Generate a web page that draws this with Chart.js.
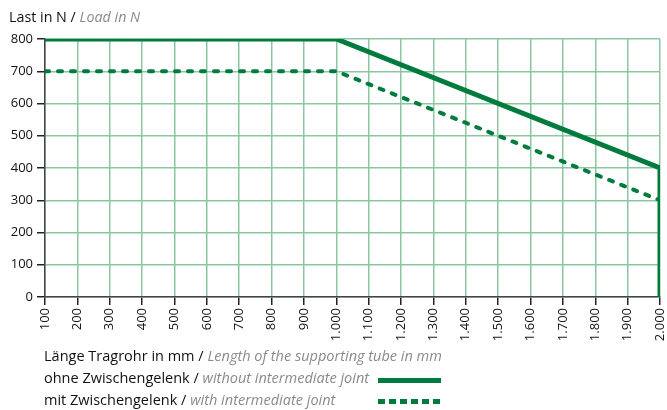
<html lang="de">
<head>
    <meta charset="UTF-8">
    <title>Last in N</title>
    <script src="https://cdn.jsdelivr.net/npm/chart.js"></script>
    <style>
        body { margin: 0; width: 667px; height: 410px; position: relative; background: #fff; font-family: "Open Sans", sans-serif; color: #111; }
        #wrap { position: absolute; left: 0; top: 0; width: 667px; height: 410px; }
        .txt { position: absolute; white-space: nowrap; font-size: 14.5px; }
        .txt i { color: #8a8a8a; }
        .sample { position: absolute; left: 378px; width: 63px; height: 5px; }
    </style>
</head>
<body>
<div id="wrap"><canvas id="loadChart" width="667" height="410"></canvas></div>
<div class="txt" style="left:9px; top:7px; font-size:14.3px;">Last in N / <i>Load in N</i></div>
<div class="txt" style="left:44px; top:346px;">Länge Tragrohr in mm / <i>Length of the supporting tube in mm</i></div>
<div class="txt" style="left:44px; top:368px;">ohne Zwischengelenk / <i>without intermediate joint</i></div>
<div class="txt" style="left:44px; top:390px;">mit Zwischengelenk / <i>with intermediate joint</i></div>
<div class="sample" style="top:378px; background:#007b3e;"></div>
<div class="sample" style="top:399px; background:repeating-linear-gradient(90deg,#007b3e 0 7px,transparent 7px 11px);"></div>

<script>
    // Werte aus dem Diagramm
    const xTicks = [100, 200, 300, 400, 500, 600, 700, 800, 900, 1000, 1100, 1200, 1300, 1400, 1500, 1600, 1700, 1800, 1900, 2000];
    const yTicks = [0, 100, 200, 300, 400, 500, 600, 700, 800];
    const lengthOhne = [100, 1000, 2000, 2000];
    const loadOhne = [800, 800, 400, 0];
    const lengthMit = [100, 1000, 2000];
    const loadMit = [700, 700, 300];

    const green = '#007b3e';
    const gridGreen = '#8cc6a0';

    function fmt(v) {
        const s = String(v);
        return s.length > 3 ? s.slice(0, -3) + '.' + s.slice(-3) : s;
    }

    const config = {
        type: 'line',
        data: {
            datasets: [{
                label: 'ohne Zwischengelenk',
                data: lengthOhne.map((x, i) => ({x: x, y: loadOhne[i]})),
                borderColor: green,
                borderWidth: 5,
                pointRadius: 0,
                fill: false,
                tension: 0
            }, {
                label: 'mit Zwischengelenk',
                data: lengthMit.map((x, i) => ({x: x, y: loadMit[i]})),
                borderColor: green,
                borderWidth: 4,
                borderDash: [4, 9],
                borderCapStyle: 'round',
                pointRadius: 0,
                fill: false,
                tension: 0
            }]
        },
        options: {
            responsive: false,
            animation: false,
            layout: { padding: { top: 39, right: 7, bottom: 63, left: 0 } },
            plugins: { legend: { display: false }, tooltip: { enabled: false } },
            scales: {
                x: {
                    type: 'linear',
                    min: 100,
                    max: 2000,
                    afterBuildTicks: s => { s.ticks = xTicks.map(v => ({value: v})); },
                    afterFit: s => { s.height = 50; s.paddingRight = 0; s.paddingLeft = 0; },
                    ticks: {
                        callback: v => fmt(v),
                        minRotation: 90,
                        maxRotation: 90,
                        color: '#111',
                        font: { family: 'Open Sans', size: 13 },
                        padding: 3
                    },
                    grid: { color: gridGreen, lineWidth: 1.5, tickColor: '#222', tickLength: 8 },
                    border: { color: '#444', width: 1.5 }
                },
                y: {
                    min: 0,
                    max: 800,
                    afterBuildTicks: s => { s.ticks = yTicks.map(v => ({value: v})); },
                    afterFit: s => { s.width = 45; },
                    ticks: {
                        color: '#111',
                        font: { family: 'Open Sans', size: 13 },
                        padding: 4
                    },
                    grid: { color: gridGreen, lineWidth: 1.5, tickColor: '#222', tickLength: 8 },
                    border: { color: '#444', width: 1.5 }
                }
            }
        }
    };

    window.onload = function () {
        new Chart(document.getElementById('loadChart').getContext('2d'), config);
    };
</script>
</body>
</html>
